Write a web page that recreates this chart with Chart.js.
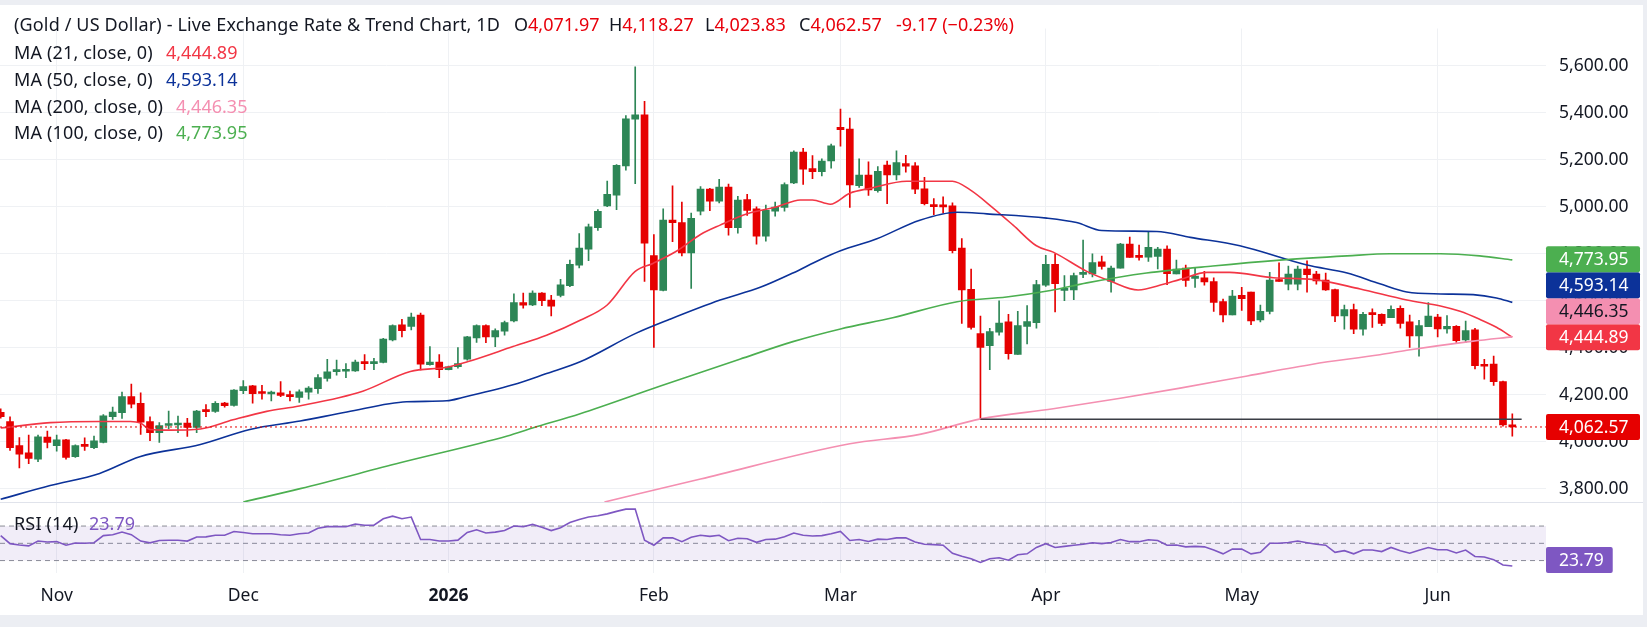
<!DOCTYPE html>
<html>
<head>
<meta charset="utf-8">
<script src="https://cdn.jsdelivr.net/npm/chart.js@4.4.1/dist/chart.umd.min.js"></script>
<style>
  html, body { margin:0; padding:0; width:1647px; height:627px; background:#eceef3; overflow:hidden; }
  #wrap { position:absolute; left:0; top:5px; width:1643px; height:610px; background:#ffffff; }
  #chart { position:absolute; left:0; top:0; }
  .t { position:absolute; font-family:'Noto Sans', sans-serif; font-size:18px; letter-spacing:0.15px; color:#131722; white-space:nowrap; line-height:20px; }
  .n { letter-spacing:0; font-size:18px; }
  .dn { color:#e8000b; }
</style>
</head>
<body>
<div id="wrap">
  <canvas id="chart" width="1643" height="610"></canvas>
  <div class="t" style="left:14px; top:9px;">(Gold / US Dollar) - Live Exchange Rate &amp; Trend Chart, 1D</div>
  <div class="t n" style="left:514px; top:9px;">O<span class="dn">4,071.97</span></div>
  <div class="t n" style="left:609px; top:9px;">H<span class="dn">4,118.27</span></div>
  <div class="t n" style="left:705px; top:9px;">L<span class="dn">4,023.83</span></div>
  <div class="t n" style="left:799px; top:9px;">C<span class="dn">4,062.57</span></div>
  <div class="t n dn" style="left:896px; top:9px;">-9.17 (−0.23%)</div>
  <div class="t" style="left:14px; top:37px;">MA (21, close, 0)</div>
  <div class="t n" style="left:166px; top:37px; color:#f23645">4,444.89</div>
  <div class="t" style="left:14px; top:64px;">MA (50, close, 0)</div>
  <div class="t n" style="left:166px; top:64px; color:#0c3299">4,593.14</div>
  <div class="t" style="left:14px; top:91px;">MA (200, close, 0)</div>
  <div class="t n" style="left:176px; top:91px; color:#f48fb1">4,446.35</div>
  <div class="t" style="left:14px; top:117px;">MA (100, close, 0)</div>
  <div class="t n" style="left:176px; top:117px; color:#4caf50">4,773.95</div>
  <div class="t" style="left:14px; top:508px;">RSI (14)</div>
  <div class="t n" style="left:89px; top:508px; color:#7e57c2">23.79</div>
</div>
<script>
// ---------- DATA ----------
const opens = [4125,4086,3983,3952,3926,4020,3983,4008,3936,3983,
3974,3997,4106,4124,4192,4163,4086,4038,4069,4071,
4079,4061,4132,4129,4164,4154,4217,4238,4208,4203,
4208,4197,4188,4211,4226,4269,4298,4300,4301,4339,
4332,4337,4433,4498,4491,4539,4328,4339,4307,4319,
4351,4442,4494,4446,4470,4514,4592,4582,4633,4603,
4623,4664,4752,4820,4911,5004,5050,5174,5373,5392,
4792,4644,4943,4933,4804,4981,5076,5024,5084,4911,
5031,4991,4875,4981,4997,5102,5233,5163,5150,5195,
5338,5331,5090,5135,5069,5178,5136,5184,5174,5077,
5007,5004,5004,4824,4649,4460,4409,4466,4510,4371,
4491,4507,4666,4755,4644,4646,4712,4714,4766,4682,
4739,4841,4788,4786,4789,4820,4714,4739,4695,4698,
4682,4596,4540,4623,4637,4518,4555,4688,4671,4671,
4735,4714,4688,4648,4535,4562,4479,4545,4542,4528,
4568,4510,4450,4490,4531,4480,4491,4433,4476,4326,
4330,4256,4071.97];
const highs = [4140,4106,4017,4028,4028,4045,4028,4010,3987,4016,
4024,4115,4147,4211,4245,4208,4106,4081,4130,4109,
4099,4133,4158,4171,4167,4222,4260,4240,4240,4215,
4256,4215,4221,4235,4286,4351,4347,4333,4347,4371,
4355,4440,4498,4521,4548,4548,4405,4371,4322,4401,
4449,4497,4498,4480,4514,4630,4633,4642,4635,4623,
4691,4773,4886,4926,4988,5110,5180,5388,5596,5449,
4882,4991,5089,5020,4973,5086,5079,5117,5097,5045,
5053,5000,5007,5020,5102,5238,5249,5218,5204,5267,
5416,5378,5204,5192,5171,5195,5238,5219,5188,5126,
5035,5042,5017,4865,4735,4535,4483,4600,4542,4555,
4579,4687,4793,4800,4707,4718,4858,4800,4790,4748,
4845,4871,4837,4891,4827,4834,4773,4752,4739,4725,
4698,4607,4644,4657,4637,4582,4721,4762,4748,4748,
4770,4725,4718,4650,4582,4586,4551,4566,4544,4578,
4578,4539,4517,4592,4542,4537,4494,4514,4483,4351,
4364,4258,4118.27];
const lows = [4100,3963,3888,3906,3915,3973,3960,3925,3933,3963,
3970,3995,4095,4099,4144,4031,4004,3997,4054,4038,
4022,4038,4106,4125,4147,4151,4204,4164,4181,4174,
4192,4174,4167,4181,4205,4258,4283,4272,4299,4307,
4307,4335,4429,4446,4476,4306,4326,4273,4305,4313,
4347,4423,4422,4405,4453,4510,4568,4579,4579,4535,
4616,4660,4740,4771,4899,5001,4988,5156,5099,4682,
4401,4642,4852,4791,4653,4966,4984,5017,4879,4888,
4963,4841,4854,4960,4981,5099,5095,5120,5131,5164,
5258,4997,5083,5049,5062,5013,5115,5147,5056,5008,
4967,4973,4804,4503,4479,4095,4307,4453,4351,4371,
4416,4483,4661,4552,4600,4605,4698,4702,4735,4637,
4739,4784,4773,4768,4736,4668,4714,4661,4657,4666,
4555,4510,4540,4559,4498,4510,4544,4682,4646,4646,
4637,4671,4644,4511,4479,4460,4453,4487,4494,4528,
4483,4401,4364,4490,4446,4462,4423,4422,4310,4266,
4239,4066,4023.83];
const closes = [4106,3974,3947,3929,4021,3997,4008,3933,3983,3980,
4004,4110,4126,4192,4160,4083,4038,4069,4075,4075,
4061,4130,4128,4163,4153,4220,4235,4204,4205,4206,
4197,4192,4212,4228,4273,4297,4302,4303,4339,4332,
4339,4437,4494,4473,4530,4330,4339,4307,4319,4332,
4446,4494,4446,4473,4507,4592,4581,4633,4600,4577,
4668,4755,4824,4915,4981,5053,5177,5375,5392,4845,
4646,4943,4932,4804,4951,5076,5024,5084,4911,5029,
4985,4875,4985,4999,5095,5233,5160,5150,5195,5260,
5328,5093,5135,5072,5151,5136,5188,5173,5075,5013,
5001,5000,4813,4646,4486,4401,4469,4505,4375,4494,
4511,4669,4755,4673,4650,4707,4718,4763,4746,4739,
4841,4785,4785,4828,4820,4715,4735,4687,4705,4680,
4593,4540,4620,4609,4514,4555,4688,4682,4714,4735,
4711,4684,4646,4535,4562,4479,4542,4541,4503,4564,
4503,4450,4494,4535,4480,4491,4430,4473,4324,4321,
4256,4071.74,4062.57];

// moving averages (bar index, value)
const ma21Idx = [0,5.3,10.6,13.9,15,16,18.1,21.4,24.9,28.5,32,38.8,43.9,47.8,50,54.9,58.5,62.1,65,68,69.9,72.5,75,77.1,80,83.2,85.7,87,88.9,91,93.2,97.1,102,103.9,106.3,108.5,111,112.8,116.4,118.9,121.9,124.6,126.4,129.3,131.7,136.4,140.6,145.7,150.7,154.3,156.4,158.5,160.3,162];
const ma21Val = [4058,4081,4086,4086,4079,4052,4049,4054,4093,4129,4152,4215,4299,4317,4340,4405,4453,4517,4582,4725,4759,4813,4882,4922,4970,5000,5029,5029,5011,5058,5079,5109,5109,5072,4997,4922,4834,4807,4725,4684,4646,4670,4691,4721,4721,4698,4691,4650,4603,4578,4555,4521,4487,4444.89];
const ma50Idx = [0,5.3,10.6,14.9,21.4,26.7,32.1,37.1,43.5,47.8,49.5,54.9,58.5,62.1,68,71.7,77.1,81.4,84.9,87.8,90,93.9,98.5,102.5,105.7,112.1,115.3,118,123.9,127.5,132.8,140,144.3,147.8,150.7,154.3,157.8,160.3,162];
const ma50Val = [3755,3813,3865,3936,3988,4052,4088,4126,4170,4174,4188,4242,4290,4340,4460,4521,4603,4657,4718,4775,4813,4864,4943,4977,4970,4952,4933,4899,4895,4870,4834,4752,4718,4672,4637,4629,4626,4612,4593.14];
const ma100Idx = [26,32.1,42.8,54.3,57,62.1,70.7,79.2,84.9,90,95.6,102.5,107.8,112.5,116.4,122.8,129.9,137.1,144.3,148.9,154.3,158.5,162];
const ma100Val = [3743,3800,3910,4024,4058,4119,4237,4351,4426,4480,4528,4596,4616,4644,4676,4718,4748,4773,4791,4800,4800,4791,4773.95];
const ma200Idx = [64.7,75,91,98.5,105,112.8,120,126.4,133.6,140.6,147.8,150.7,157.8,162];
const ma200Val = [3743,3841,3991,4031,4097,4140,4185,4228,4280,4330,4370,4389,4428,4446.35];

const rsiVals = [58.9,49.6,48,47,52.6,51.5,52,47.8,50.4,50,
50.7,58.9,60,63,60,52.6,50.5,53.3,53.5,53.5,
52.6,57.4,57.5,59.3,59.3,63.7,62.5,61.1,61,61.1,
60,59.3,61,61.9,67.4,69.3,69.5,69.3,72.2,71,
71.1,78.5,81.5,78.5,80.4,54.4,54.4,52.6,52.6,53.7,
62.6,65.6,61.9,63,64.8,70,69.3,71.9,68.5,64.8,
68,74.1,77.5,80.4,82,84.1,87,89.6,89.6,53.7,
47.8,56.3,56.3,51.9,57,59.3,58.1,59.3,53,55.9,
55.2,51.1,54.4,54.8,57.5,61.9,59.3,58.5,58.9,61,
63.7,53.3,54.4,52.2,54.8,54.4,56.3,56.3,51.5,48.9,
48.5,47.8,38.5,35,32.2,27.8,32.2,33.3,30.4,36.7,
37.8,45.2,49.6,45.2,46.5,47.8,48.9,50.7,49.6,51,
54.4,51.9,51.9,54.1,53.3,47.8,48.1,45.9,46.5,45.9,
42.2,37.8,43.3,43.3,37.8,39.6,50,50,51,52.6,
50.7,49,47.8,39.6,41.5,37.8,42.2,42.2,40.4,45.2,
41.5,38.5,42,45.2,42.6,42.6,38.9,42.2,34.8,34.1,
31.1,24.8,23.79];

const supportLevel = 4096;           // horizontal drawn level
const supportFrom = 105, supportTo = 163.0;
const rsiLevels = [70, 50, 30];
const priceTicks = [3800,4000,4200,4400,4600,4800,5000,5200,5400,5600];
const monthTickIdx = [6,26,48,70,90,112,133,154];
const monthTickLabels = ['Nov','Dec','2026','Feb','Mar','Apr','May','Jun'];

// ---------- STYLE ----------
const GREEN = '#2d8656', RED = '#e60000';
const C_MA21 = '#f23645', C_MA50 = '#0c3299', C_MA200 = '#f48fb1', C_MA100 = '#4caf50', C_RSI = '#7e57c2';
const X_MIN = -0.075, X_MAX = 165.61;
const RSI_PANE_H = 74, MAIN_PANE_H = 494;
const FONT = "'Noto Sans', sans-serif";
Chart.defaults.font.family = FONT;

const fmt = v => v.toLocaleString('en-US', {minimumFractionDigits:2, maximumFractionDigits:2});
const pts = (idx, val) => idx.map((x, k) => ({x, y: val[k]}));
const candleCol = closes.map((c, i) => c >= opens[i] ? GREEN : RED);

const lineDs = (data, color, width, extra) => Object.assign({
  type:'line', data, borderColor:color, borderWidth:width, pointRadius:0,
  tension:0.3, cubicInterpolationMode:'monotone', fill:false,
  yAxisID:'y', xAxisID:'x', order:1
}, extra || {});

const datasets = [
  { type:'bar', data: opens.map((o,i)=>({x:i, y:[lows[i], highs[i]]})), backgroundColor:candleCol,
    barThickness:1, grouped:false, yAxisID:'y', xAxisID:'x', order:3, borderWidth:0 },
  { type:'bar', data: opens.map((o,i)=>({x:i, y:[o, closes[i]]})), backgroundColor:candleCol,
    barThickness:7, minBarLength:2, grouped:false, yAxisID:'y', xAxisID:'x', order:2, borderWidth:0 },
  lineDs(pts(ma200Idx, ma200Val), C_MA200, 1.6),
  lineDs(pts(ma100Idx, ma100Val), C_MA100, 1.6),
  lineDs(pts(ma50Idx, ma50Val), C_MA50, 1.6),
  lineDs(pts(ma21Idx, ma21Val), C_MA21, 1.6),
  lineDs([{x:X_MIN, y:closes[closes.length-1]}, {x:X_MAX, y:closes[closes.length-1]}], RED, 1, {borderDash:[2,3], tension:0, order:0}),
  lineDs([{x:supportFrom, y:supportLevel}, {x:supportTo, y:supportLevel}], '#3a3d45', 1.5, {tension:0, order:0}),
  { type:'line', data:[{x:X_MIN, y:rsiLevels[0]}, {x:X_MAX, y:rsiLevels[0]}], borderColor:'#8a8d96', borderWidth:1,
    borderDash:[5,4], pointRadius:0, fill:{value:rsiLevels[2]}, backgroundColor:'rgba(126,87,194,0.11)', yAxisID:'yR', xAxisID:'x', order:5 },
  { type:'line', data:[{x:X_MIN, y:rsiLevels[1]}, {x:X_MAX, y:rsiLevels[1]}], borderColor:'#8a8d96', borderWidth:1,
    borderDash:[5,4], pointRadius:0, fill:false, yAxisID:'yR', xAxisID:'x', order:5 },
  { type:'line', data:[{x:X_MIN, y:rsiLevels[2]}, {x:X_MAX, y:rsiLevels[2]}], borderColor:'#8a8d96', borderWidth:1,
    borderDash:[5,4], pointRadius:0, fill:false, yAxisID:'yR', xAxisID:'x', order:5 },
  { type:'line', data: rsiVals.map((v,i)=>({x:i, y:v})), borderColor:C_RSI, borderWidth:1.6, pointRadius:0,
    tension:0, fill:false, yAxisID:'yR', xAxisID:'x', order:4 }
];

const overlayPlugin = {
  id:'overlay',
  afterDraw(chart) {
    const ctx = chart.ctx, y = chart.scales.y, r = chart.scales.yR, area = chart.chartArea;
    ctx.save();
    ctx.strokeStyle = '#e0e3eb'; ctx.lineWidth = 1;
    ctx.beginPath(); ctx.moveTo(0, Math.round(r.top) + 0.5); ctx.lineTo(chart.width, Math.round(r.top) + 0.5); ctx.stroke();

    const H = 26, left = area.right, right = chart.width - 3;
    ctx.font = '17.5px ' + FONT; ctx.textBaseline = 'middle'; ctx.textAlign = 'left';
    const box = (cy, x0, x1, bg, fg, txt) => {
      ctx.fillStyle = bg;
      ctx.beginPath();
      if (ctx.roundRect) ctx.roundRect(x0, cy - H/2, x1 - x0, H, 2); else ctx.rect(x0, cy - H/2, x1 - x0, H);
      ctx.fill();
      ctx.fillStyle = fg; ctx.fillText(txt, x0 + 13, cy + 1);
    };
    const items = [
      {v: ma21Val[ma21Val.length-1], bg:C_MA21, fg:'#ffffff'},
      {v: ma200Val[ma200Val.length-1], bg:C_MA200, fg:'#131722'},
      {v: ma50Val[ma50Val.length-1], bg:C_MA50, fg:'#ffffff'},
      {v: ma100Val[ma100Val.length-1], bg:C_MA100, fg:'#ffffff'}
    ].map(o => Object.assign(o, {p: y.getPixelForValue(o.v)})).sort((a,b) => b.p - a.p);
    let prev = Infinity;
    for (const it of items) {
      const cy = Math.min(it.p, prev - H);
      box(cy, left, right, it.bg, it.fg, fmt(it.v));
      prev = cy;
    }
    const last = closes[closes.length-1];
    box(y.getPixelForValue(last), left, right, RED, '#ffffff', fmt(last));
    const rv = rsiVals[rsiVals.length-1];
    const rt = rv.toFixed(2);
    const w = ctx.measureText(rt).width + 22;
    box(Math.min(r.getPixelForValue(rv), r.bottom - H/2), left, left + w, C_RSI, '#ffffff', rt);
    ctx.restore();
  }
};

new Chart(document.getElementById('chart'), {
  type:'bar',
  data:{ datasets },
  options:{
    responsive:false, animation:false, devicePixelRatio:1,
    layout:{ padding:0, autoPadding:false },
    plugins:{ legend:{display:false}, tooltip:{enabled:false} },
    scales:{
      x:{ type:'linear', min:X_MIN, max:X_MAX, offset:false, position:'bottom',
          grid:{ color:'#eff1f4', offset:false, drawTicks:false },
          border:{ display:false },
          afterBuildTicks: s => { s.ticks = monthTickIdx.map(v => ({value:v})); },
          afterFit: s => { s.height = 42; },
          ticks:{ autoSkip:false, maxRotation:0, padding:13, color:'#131722',
                  callback:(v, i) => monthTickLabels[i],
                  font: c => ({ size:17.5, family:FONT, weight: monthTickLabels[c.index] === '2026' ? 'bold' : 'normal' }) } },
      y:{ type:'linear', position:'right', stack:'panes', stackWeight:MAIN_PANE_H, min:3742.9, max:5759.2,
          grid:{ color:'#eff1f4', drawTicks:false }, border:{ display:false },
          afterBuildTicks: s => { s.ticks = priceTicks.map(v => ({value:v})); },
          afterFit: s => { s.width = 97; },
          ticks:{ padding:13, color:'#131722', font:{ size:17.5 }, callback: v => fmt(v) } },
      yR:{ type:'linear', position:'right', stack:'panes', stackWeight:RSI_PANE_H, min:15.6, max:97.8,
          grid:{ display:false, drawTicks:false }, border:{ display:false },
          afterFit: s => { s.width = 97; },
          ticks:{ display:false } }
    }
  },
  plugins:[overlayPlugin]
});
</script>
</body>
</html>
